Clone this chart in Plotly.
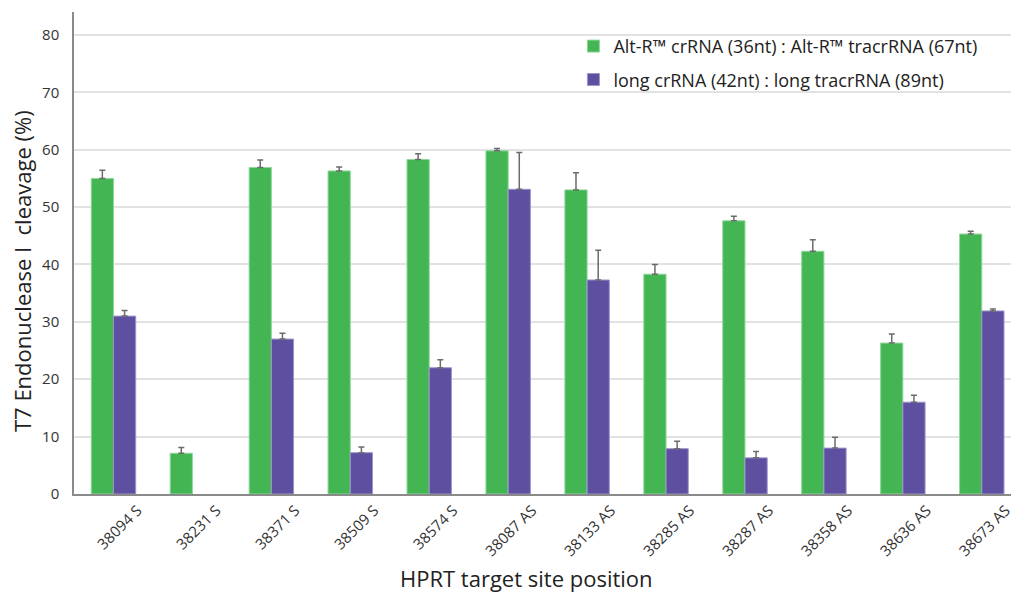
import plotly.graph_objects as go

# HPRT target sites (S = sense, AS = antisense)
sites = ["38094 S", "38231 S", "38371 S", "38509 S", "38574 S", "38087 AS",
         "38133 AS", "38285 AS", "38287 AS", "38358 AS", "38636 AS", "38673 AS"]

# Cleavage (%) and upper error for each guide format (no long-guide data at 38231 S)
altr_vals = [55.0, 7.1, 56.9, 56.3, 58.3, 59.8, 53.0, 38.3, 47.6, 42.3, 26.3, 45.3]
altr_err = [1.4, 1.0, 1.3, 0.7, 1.0, 0.4, 3.0, 1.7, 0.8, 2.0, 1.6, 0.5]
long_vals = [31.0, None, 27.0, 7.2, 22.0, 53.1, 37.3, 7.9, 6.3, 8.0, 16.0, 31.9]
long_err = [1.0, None, 1.0, 1.0, 1.4, 6.4, 5.2, 1.3, 1.1, 1.9, 1.2, 0.35]

series_names = ["Alt-R™ crRNA (36nt) : Alt-R™ tracrRNA (67nt)",
                "long crRNA (42nt) : long tracrRNA (89nt)"]

GREEN = "#43B553"
PURPLE = "#5E4FA0"
FONT = "'Open Sans', sans-serif"

fig = go.Figure()
for name, vals, errs, col, edge, grp in [
    (series_names[0], altr_vals, altr_err, GREEN, "#8ED89A", "a"),
    (series_names[1], long_vals, long_err, PURPLE, "#9E95CC", "b"),
]:
    fig.add_trace(go.Bar(
        x=sites, y=vals, name=name, legendgroup=grp,
        marker=dict(color=col, line=dict(color=edge, width=1)),
        error_y=dict(type="data", symmetric=False, array=errs,
                     arrayminus=[0] * len(errs), color="#6b6b6b",
                     thickness=1.5, width=3),
    ))

fig.update_layout(
    width=1014, height=592,
    margin=dict(l=74, r=0, t=12, b=98),
    paper_bgcolor="white", plot_bgcolor="white",
    barmode="group", bargap=0.437, bargroupgap=0,
    font=dict(family=FONT, color="#333333"),
    legend=dict(x=0.533, y=0.967, xanchor="left", yanchor="top",
                font=dict(size=18, color="#222222"),
                traceorder="grouped", tracegroupgap=7,
                bgcolor="rgba(0,0,0,0)"),
    xaxis=dict(range=[-0.5, 11.37], tickangle=-45,
               tickfont=dict(size=15, color="#333333"),
               showline=True, linecolor="#8a8a8a", linewidth=1.5,
               showgrid=False, ticks="", ticklabelshift=24),
    yaxis=dict(range=[0, 84], tickvals=[0, 10, 20, 30, 40, 50, 60, 70, 80],
               tickfont=dict(size=15, color="#333333"),
               showline=True, linecolor="#8a8a8a", linewidth=1.5,
               gridcolor="#e2e2e2", gridwidth=1.5, zeroline=False,
               ticks="", ticklabelstandoff=10),
    annotations=[
        dict(text="T7 Endonuclease I\u00a0 cleavage (%)", textangle=-90,
             xref="paper", yref="paper", x=-0.0553, y=0.463,
             xanchor="center", yanchor="middle",
             showarrow=False, font=dict(size=22, color="#222222")),
        dict(text="HPRT target site position",
             xref="paper", yref="paper", x=0.4830, y=-0.1743,
             xanchor="center", yanchor="middle",
             showarrow=False, font=dict(size=22, color="#222222")),
    ],
)

fig.write_html("out.html")
